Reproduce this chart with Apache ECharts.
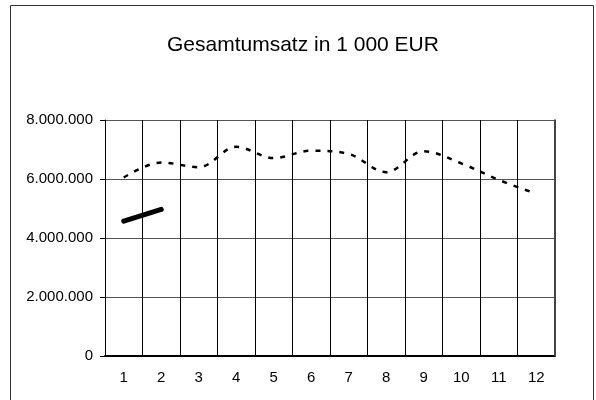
<!DOCTYPE html>
<html>
<head>
<meta charset="utf-8">
<script src="https://cdn.jsdelivr.net/npm/echarts@6/dist/echarts.min.js"></script>
<style>html,body{margin:0;padding:0;background:#fff}#c{width:596px;height:400px}</style>
</head>
<body>
<div id="c"></div>
<script>
var categories = ['1','2','3','4','5','6','7','8','9','10','11','12'];
var seriesDashed = [6050000, 6560000, 6400000, 7090000, 6710000, 6960000, 6850000, 6230000, 6940000, 6530000, 5970000, 5500000];
var seriesSolid = [4570000, 4970000];
var yTicks = { min: 0, max: 8000000, interval: 2000000 };

function fmt(v){ return String(v).replace(/\B(?=(\d{3})+(?!\d))/g, '.'); }

var FONT = 'Liberation Sans, Arial, sans-serif';
var chart = echarts.init(document.getElementById('c'), null, {renderer:'canvas'});
chart.setOption({
  animation: false,
  backgroundColor: '#fff',
  title: {
    text: 'Gesamtumsatz in 1 000 EUR',
    left: 167, top: 35, padding: 0,
    textStyle: { fontFamily: FONT, fontSize: 21, fontWeight: 'normal', color: '#000' }
  },
  graphic: [{
    type: 'rect', shape: { x: 10.5, y: 5.5, width: 583, height: 400 },
    style: { fill: null, stroke: '#333', lineWidth: 1 }, silent: true
  }, {
    type: 'line', shape: { x1: 555, y1: 119.5, x2: 555, y2: 356 },
    style: { stroke: '#444', lineWidth: 2 }, silent: true, z: 10
  }],
  grid: { left: 105, right: 41, top: 120, bottom: 44 },
  xAxis: {
    type: 'category', data: categories, boundaryGap: true,
    axisLine: { lineStyle: { color: '#000', width: 2 } },
    axisTick: { length: 5, lineStyle: { color: '#000' } },
    axisLabel: { color: '#000', fontSize: 15, fontFamily: FONT, margin: 14 },
    splitLine: { show: true, lineStyle: { color: '#000', width: 1 } }
  },
  yAxis: {
    type: 'value', min: yTicks.min, max: yTicks.max, interval: yTicks.interval,
    axisLine: { show: true, lineStyle: { color: '#000', width: 1 } },
    axisTick: { show: true, length: 5, lineStyle: { color: '#000' } },
    axisLabel: { color: '#000', fontSize: 15, fontFamily: FONT, margin: 12, formatter: fmt },
    splitLine: { show: true, lineStyle: { color: '#555', width: 1 } }
  },
  series: [{
    type: 'line', data: seriesDashed, smooth: 0.35, showSymbol: false, symbol: 'none',
    lineStyle: { color: '#000', width: 2.5, type: [5, 7] }, z: 5
  }, {
    type: 'line', data: seriesSolid, showSymbol: false, symbol: 'none',
    lineStyle: { color: '#000', width: 5, cap: 'round' }, z: 5
  }]
});
</script>
</body>
</html>
